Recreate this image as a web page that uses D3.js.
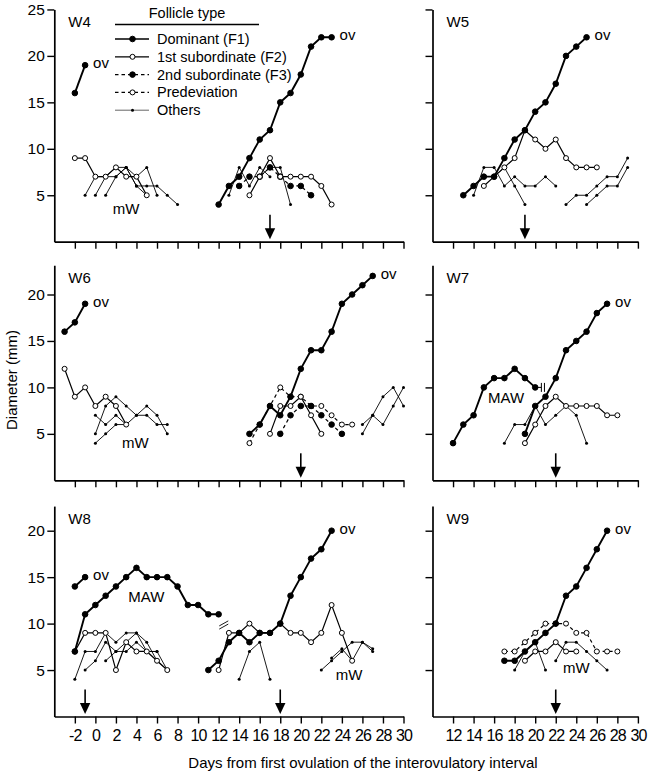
<!DOCTYPE html>
<html><head><meta charset="utf-8">
<script src="https://cdn.jsdelivr.net/npm/d3@7"></script>
<style>
body{margin:0;background:#fff}
text{font-family:"Liberation Sans",Arial,Helvetica,sans-serif;fill:#000}
</style>
</head><body>
<svg id="chart" width="652" height="775"></svg>
<script>
// ---------------- DATA ----------------
const leftTicks = [-2,0,2,4,6,8,10,12,14,16,18,20,22,24,26,28,30];
const rightTicks = [12,14,16,18,20,22,24,26,28,30];
const yTicksTop = [5,10,15,20,25];
const yTicksLow = [5,10,15,20];

const legendLabels = ["Dominant (F1)","1st subordinate (F2)","2nd subordinate (F3)","Predeviation","Others"];

// W4
const w4_F1a = [[-2,16],[-1,19]];
const w4_F2a = [[-2,9],[-1,9],[0,7],[1,7],[2,8],[3,7],[4,7],[5,5]];
const w4_O1 = [[-1,5],[0,7],[1,7],[2,8],[3,8],[4,6],[5,5]];
const w4_O2 = [[0,5],[1,7],[2,7],[3,8],[4,7],[5,8],[6,5]];
const w4_O3 = [[1,5],[2,7],[3,8],[4,6],[5,6],[6,6],[7,5],[8,4]];
const w4_F1b = [[12,4],[13,6],[14,7],[15,9],[16,11],[17,12],[18,15],[19,16],[20,18],[21,21],[22,22],[23,22]];
const w4_F2b = [[15,5],[16,7],[17,9],[18,7],[19,7],[20,7],[21,7],[22,6],[23,4]];
const w4_F3b = [[14,6],[15,7],[16,7],[17,8],[18,7],[19,6],[20,6],[21,5]];
const w4_O4 = [[13,5],[14,8],[15,6],[16,8],[17,7]];
const w4_O5 = [[16,7],[17,8],[18,8],[19,4]];

// W5
const w5_F1 = [[13,5],[14,6],[15,7],[16,7],[17,9],[18,11],[19,12],[20,14],[21,15],[22,17],[23,20],[24,21],[25,22]];
const w5_F2 = [[15,6],[16,7],[17,8],[18,9],[19,12],[20,11],[21,10],[22,11],[23,9],[24,8],[25,8],[26,8]];
const w5_O1 = [[14,5],[15,8],[16,8],[17,6],[18,7],[19,6],[20,6],[21,7],[22,6]];
const w5_O2 = [[16,7],[17,8],[18,6],[19,4]];
const w5_O3 = [[23,4],[24,5],[25,5],[26,6],[27,7],[28,7],[29,9]];
const w5_O4 = [[25,4],[26,5],[27,6],[28,6],[29,8]];

// W6
const w6_F1a = [[-3,16],[-2,17],[-1,19]];
const w6_F2a = [[-3,12],[-2,9],[-1,10],[0,8],[1,9],[2,8],[3,6]];
const w6_O1 = [[0,7],[1,6],[2,7],[3,6]];
const w6_O2 = [[0,5],[1,8],[2,9],[3,8],[4,7],[5,7],[6,6],[7,6]];
const w6_O3 = [[0,4],[1,5],[2,6],[3,6],[4,7],[5,8],[6,7],[7,5]];
const w6_F1b = [[15,5],[16,6],[17,8],[18,7],[19,9],[20,12],[21,14],[22,14],[23,16],[24,19],[25,20],[26,21],[27,22]];
const w6_F2b = [[17,5],[18,8],[19,8],[20,9],[21,7],[22,5]];
const w6_F3b = [[18,5],[19,7],[20,8],[21,8],[22,7],[23,6],[24,5]];
const w6_PDb = [[15,4],[16,6],[17,8],[18,10],[19,9],[20,9],[21,8],[22,8],[23,7],[24,6],[25,6]];
const w6_O4 = [[26,5],[27,7],[28,9],[29,10],[30,8]];
const w6_O5 = [[26,6],[27,7],[28,6],[29,8],[30,10]];

// W7
const w7_F1a = [[12,4],[13,6],[14,7],[15,10],[16,11],[17,11],[18,12],[19,11],[20,10]];
const w7_F1b = [[19,5],[20,8],[21,9],[22,11],[23,14],[24,15],[25,16],[26,18],[27,19]];
const w7_F2 = [[19,4],[20,6],[21,8],[22,9],[23,8],[24,8],[25,8],[26,8],[27,7],[28,7]];
const w7_O1 = [[17,4],[18,6],[19,6],[20,8],[21,6],[22,7],[23,8],[24,7],[25,4]];

// W8
const w8_F1a = [[-2,14],[-1,15]];
const w8_MAW = [[-2,7],[-1,11],[0,12],[1,13],[2,14],[3,15],[4,16],[5,15],[6,15],[7,15],[8,14],[9,12],[10,12],[11,11],[12,11]];
const w8_F2a = [[-2,7],[-1,9],[0,9],[1,9],[2,5],[3,8],[4,7],[5,7],[6,6],[7,5]];
const w8_O1 = [[-2,4],[-1,7],[0,7],[1,9],[2,8],[3,9],[4,9],[5,8],[6,6],[7,5]];
const w8_O2 = [[-1,5],[0,6],[1,8],[2,7],[3,7],[4,8],[5,7],[6,7],[7,5]];
const w8_O3 = [[1,6],[2,7],[3,8],[4,9],[5,7],[6,7]];
const w8_F1b = [[11,5],[12,6],[13,8],[14,9],[15,8],[16,9],[17,9],[18,10],[19,13],[20,15],[21,17],[22,18],[23,20]];
const w8_F2b = [[12,5],[13,9],[14,9],[15,10],[16,9],[17,9],[18,10],[19,9],[20,9],[21,8],[22,9],[23,12],[24,9],[25,6]];
const w8_O4 = [[14,4],[15,7],[16,8],[17,4]];
const w8_O5 = [[22,5],[23,6],[24,7],[25,8],[26,8],[27,7]];
const w8_O6 = [[23,6.3],[24,7.3],[25,6],[26,8],[27,7.3]];

// W9
const w9_F1 = [[17,6],[18,6],[19,7],[20,8],[21,9],[22,10],[23,13],[24,14],[25,16],[26,18],[27,20]];
const w9_PD = [[17,7],[18,7],[19,8],[20,9],[21,10],[22,10],[23,10],[24,9],[25,9],[26,7],[27,7],[28,7]];
const w9_F2 = [[19,6],[20,7],[21,7],[22,8],[23,7],[24,7]];
const w9_O1 = [[18,5],[19,7],[20,8],[21,5]];
const w9_O2 = [[22,6],[23,8],[24,8],[25,7],[26,6],[27,5]];

// ---------------- LAYOUT ----------------
const cols = [
  {domain:[-4,30], range:[54.3,403.5], ticks:leftTicks},
  {domain:[10,30], range:[432.5,637.9], ticks:rightTicks}
];
const rows = [
  {bottom:241.7, max:25, ticks:yTicksTop},
  {bottom:480.3, max:23.15, ticks:yTicksLow},
  {bottom:716.5, max:22.65, ticks:yTicksLow}
];
const PXMM = 9.29;

const panels = [
  {name:"W4", c:0, r:0, series:[
     ["O",w4_O1],["O",w4_O2],["O",w4_O3],["O",w4_O4],["O",w4_O5],
     ["F3",w4_F3b],["F2",w4_F2a],["F2",w4_F2b],["F1",w4_F1a],["F1",w4_F1b]],
   ov:[w4_F1a,w4_F1b], arrows:[17], notes:[["mW",1.7,3.0]]},
  {name:"W5", c:1, r:0, series:[
     ["O",w5_O1],["O",w5_O2],["O",w5_O3],["O",w5_O4],["F2",w5_F2],["F1",w5_F1]],
   ov:[w5_F1], arrows:[19], notes:[]},
  {name:"W6", c:0, r:1, series:[
     ["O",w6_O1],["O",w6_O2],["O",w6_O3],["O",w6_O4],["O",w6_O5],
     ["PD",w6_PDb],["F3",w6_F3b],["F2",w6_F2a],["F2",w6_F2b],["F1",w6_F1a],["F1",w6_F1b]],
   ov:[w6_F1a,w6_F1b], arrows:[20], notes:[["mW",2.6,3.5]]},
  {name:"W7", c:1, r:1, series:[
     ["O",w7_O1],["F2",w7_F2],["F1",w7_F1a],["F1",w7_F1b]],
   ov:[w7_F1b], arrows:[22], notes:[["MAW",15.4,8.3]], brk:"bar"},
  {name:"W8", c:0, r:2, series:[
     ["O",w8_O1],["O",w8_O2],["O",w8_O3],["O",w8_O4],["O",w8_O5],["O",w8_O6],
     ["F2",w8_F2a],["F2",w8_F2b],["F1",w8_MAW],["F1",w8_F1a],["F1",w8_F1b]],
   ov:[w8_F1a,w8_F1b], arrows:[-1,18], notes:[["MAW",3.2,12.3],["mW",23.4,3.9]], brk:"slash"},
  {name:"W9", c:1, r:2, series:[
     ["O",w9_O1],["O",w9_O2],["PD",w9_PD],["F2",w9_F2],["F1",w9_F1]],
   ov:[w9_F1], arrows:[22], notes:[["mW",22.7,4.7]]}
];

const styles = {
  F1:{w:1.9, dash:null, r:2.8, fill:"#000"},
  F2:{w:1.2, dash:null, r:2.5, fill:"#fff"},
  F3:{w:1.2, dash:"3.5,3", r:2.8, fill:"#000"},
  PD:{w:1.2, dash:"3.5,3", r:2.5, fill:"#fff"},
  O:{w:0.9, dash:null, r:1.5, fill:"#000"}
};

const fmt = v => String(v);
const svg = d3.select("#chart");

panels.forEach(p => {
  const C = cols[p.c], R = rows[p.r];
  const x = d3.scaleLinear().domain(C.domain).range(C.range);
  const y = d3.scaleLinear().domain([0,R.max]).range([R.bottom, R.bottom - R.max*PXMM]);
  const g = svg.append("g");

  // axes
  const xa = d3.axisBottom(x).tickValues(C.ticks).tickSize(7).tickSizeOuter(0)
     .tickFormat(p.r===2 ? fmt : "");
  const gx = g.append("g").attr("transform",`translate(0,${R.bottom})`).call(xa);
  const ya = d3.axisLeft(y).tickValues(R.ticks).tickSize(7).tickSizeOuter(0)
     .tickFormat(p.c===0 ? fmt : "");
  const gy = g.append("g").attr("transform",`translate(${C.range[0]},0)`).call(ya);
  [gx,gy].forEach(a=>{
    a.select(".domain").attr("stroke","#000").attr("stroke-width",1.7);
    a.selectAll(".tick line").attr("stroke","#000").attr("stroke-width",1.4);
    a.selectAll(".tick text").attr("fill","#000")
      .style("font-family",'"Liberation Sans",Arial,sans-serif');
  });
  gx.selectAll(".tick text").style("font-size","16px").attr("dy","0.92em").style("letter-spacing","-0.9px");
  gy.selectAll(".tick text").style("font-size","15.5px").attr("x",-9.5);

  // panel label
  g.append("text").attr("x",C.range[0]+14).attr("y",y(R.max)+17.5)
    .style("font-size","15px").text(p.name);

  const line = d3.line().x(d=>x(d[0])).y(d=>y(d[1]));
  p.series.forEach(([t,data])=>{
    const s = styles[t];
    g.append("path").attr("d",line(data)).attr("fill","none").attr("stroke","#000")
      .attr("stroke-width",s.w).attr("stroke-dasharray",s.dash);
  });
  p.series.forEach(([t,data])=>{
    const s = styles[t];
    g.selectAll(null).data(data).enter().append("circle")
      .attr("cx",d=>x(d[0])).attr("cy",d=>y(d[1])).attr("r",s.r)
      .attr("fill",s.fill).attr("stroke","#000").attr("stroke-width",t==="O"?0:1);
  });

  p.ov.forEach(data=>{
    const last = data[data.length-1];
    g.append("text").attr("x",x(last[0])+8).attr("y",y(last[1])+3)
      .style("font-size","15px").text("ov");
  });
  p.notes.forEach(([t,dx,dy])=>{
    g.append("text").attr("x",x(dx)).attr("y",y(dy)).style("font-size","15px").text(t);
  });
  p.arrows.forEach(d=>{
    const ax = x(d), yb = R.bottom-2.5, yt = R.bottom-27;
    g.append("line").attr("x1",ax).attr("x2",ax).attr("y1",yt).attr("y2",yb-8)
      .attr("stroke","#000").attr("stroke-width",1.6);
    g.append("path").attr("d",`M${ax-5.2},${yb-11}L${ax+5.2},${yb-11}L${ax},${yb}Z`).attr("fill","#000");
  });
  if(p.brk==="bar"){
    const yy = y(10);
    g.append("line").attr("x1",x(20)).attr("x2",x(20.6)).attr("y1",yy).attr("y2",yy)
      .attr("stroke","#000").attr("stroke-width",1);
    [20.6,20.9].forEach(v=>g.append("line").attr("x1",x(v)).attr("x2",x(v))
      .attr("y1",yy-4.5).attr("y2",yy+4.5).attr("stroke","#000").attr("stroke-width",1));
  }
  if(p.brk==="slash"){
    const cx = x(12.5), cy = y(9.85);
    [-1.6,1.6].forEach(o=>g.append("line").attr("x1",cx-4.5).attr("x2",cx+4.5)
      .attr("y1",cy+o+2.5).attr("y2",cy+o-2.5).attr("stroke","#000").attr("stroke-width",0.9));
  }
});

// legend
const lg = svg.append("g");
lg.append("text").attr("x",187).attr("y",18).attr("text-anchor","middle")
  .style("font-size","14.5px").text("Follicle type");
lg.append("line").attr("x1",115).attr("x2",259).attr("y1",24.5).attr("y2",24.5)
  .attr("stroke","#000").attr("stroke-width",1.5);
const legKeys = ["F1","F2","F3","PD","O"];
legKeys.forEach((k,i)=>{
  const s = styles[k], yy = 39 + i*17.8;
  lg.append("line").attr("x1",115).attr("x2",149).attr("y1",yy).attr("y2",yy)
    .attr("stroke", k==="O" ? "#666" : "#000").attr("stroke-width", k==="F1"?1.6:(k==="O"?1:1.2))
    .attr("stroke-dasharray", s.dash);
  lg.append("circle").attr("cx",132.5).attr("cy",yy).attr("r",s.r).attr("fill",s.fill)
    .attr("stroke","#000").attr("stroke-width",k==="O"?0:1);
  lg.append("text").attr("x",157).attr("y",yy+5).style("font-size","14.5px").text(legendLabels[i]);
});

// axis titles
svg.append("text").attr("transform","translate(17,380) rotate(-90)").attr("text-anchor","middle")
  .style("font-size","15px").text("Diameter (mm)");
svg.append("text").attr("x",363).attr("y",768).attr("text-anchor","middle")
  .style("font-size","15px").text("Days from first ovulation of the interovulatory interval");
</script>
</body></html>
